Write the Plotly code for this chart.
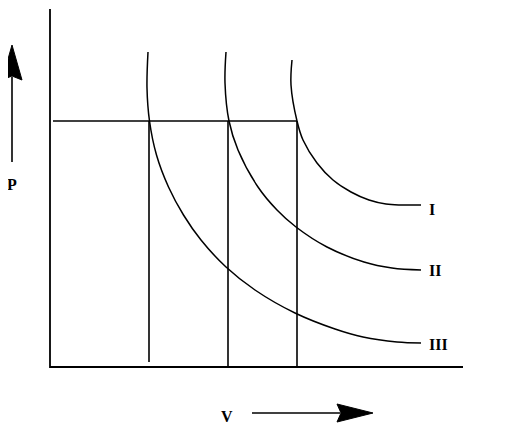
import plotly.graph_objects as go

# isotherm points (V, P in the drawing's own units)
iso_I_v = [242, 241, 247, 253, 267, 283, 301, 319, 336, 350, 371]
iso_I_p = [307, 282, 246, 227, 204, 187, 175, 167, 163, 162, 162]

iso_II_v = [176, 175, 179, 188, 208, 227, 246, 277, 314, 342, 371]
iso_II_p = [315, 284, 246, 217, 180, 157, 140, 120, 105, 99, 97]

iso_III_v = [98, 97, 99.5, 106.5, 118.5, 133.5, 151, 176, 205, 245, 285, 313, 347, 371]
iso_III_p = [315, 279, 246, 212, 180, 152, 127, 100, 77, 54, 38, 30, 25, 24]

labels = ["I", "II", "III"]
label_p = [158, 97, 23]

# constant-pressure line and the three volumes where it cuts the isotherms
p_const = 246
v_start = 3
v_cuts = [99, 178, 247]
v_cut_bottom = [5, -1, 0]

# axes of the diagram
v_axis_end = 413
p_axis_end = 358

LINE = dict(color="black", width=1.6)
FONT = dict(family="Liberation Serif", size=16, color="black")

fig = go.Figure()

for v, p in [(iso_I_v, iso_I_p), (iso_II_v, iso_II_p), (iso_III_v, iso_III_p)]:
    fig.add_trace(go.Scatter(x=v, y=p, mode="lines", line=dict(color="black", width=1.5, shape="spline", smoothing=1.0)))

# axes
fig.add_trace(go.Scatter(x=[0, 0, v_axis_end], y=[p_axis_end, 0, 0], mode="lines", line=dict(color="black", width=1.8)))

# horizontal line
fig.add_trace(go.Scatter(x=[v_start, v_cuts[-1]], y=[p_const, p_const], mode="lines", line=LINE))

# verticals
for v, b in zip(v_cuts, v_cut_bottom):
    fig.add_trace(go.Scatter(x=[v, v], y=[b, p_const], mode="lines", line=LINE))

for lab, p in zip(labels, label_p):
    fig.add_annotation(x=377, y=p, text="<b>%s</b>" % lab, showarrow=False, xanchor="left", yanchor="middle", font=FONT)

fig.add_annotation(x=-38, y=183, text="<b>P</b>", showarrow=False, font=FONT)
fig.add_annotation(x=177, y=-49, text="<b>V</b>", showarrow=False, font=FONT)

# P arrow
fig.add_shape(type="line", x0=-38, y0=205, x1=-38, y1=290, line=dict(color="black", width=1.6))
fig.add_shape(type="path", path="M -38 322 L -48 287 L -38 291 L -28 287 Z",
              fillcolor="black", line=dict(color="black", width=1))
# V arrow
fig.add_shape(type="line", x0=202, y0=-46, x1=290, y1=-46, line=dict(color="black", width=1.6))
fig.add_shape(type="path", path="M 323 -46 L 287 -37 L 291 -46 L 287 -55 Z",
              fillcolor="black", line=dict(color="black", width=1))

# page body has an 8px margin, so the figure is 8px smaller and the ranges shifted
fig.update_xaxes(range=[-42, 468], visible=False)
fig.update_yaxes(range=[-75, 359], visible=False)
fig.update_layout(
    width=510,
    height=434,
    margin=dict(l=0, r=0, t=0, b=0),
    plot_bgcolor="white",
    paper_bgcolor="white",
    showlegend=False,
)

fig.write_html("out.html")
